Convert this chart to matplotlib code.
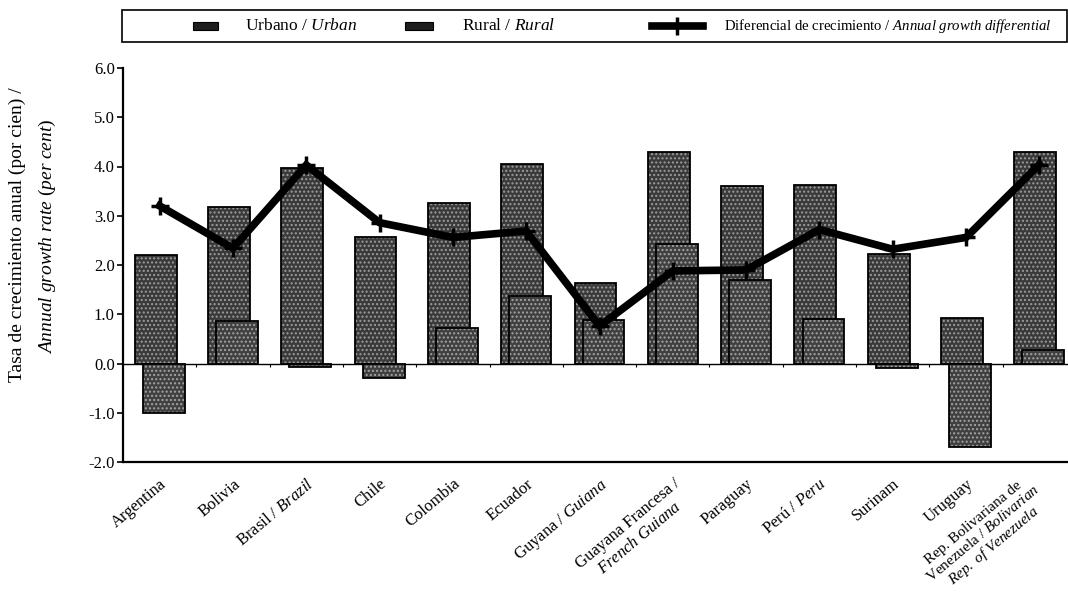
import numpy as np
import matplotlib
matplotlib.use("Agg")
import matplotlib.pyplot as plt
from matplotlib.lines import Line2D
from matplotlib.patches import Rectangle

plt.rcParams['font.family'] = ['Liberation Serif', 'DejaVu Serif']
plt.rcParams['mathtext.fontset'] = 'custom'
plt.rcParams['mathtext.rm'] = 'Liberation Serif'
plt.rcParams['mathtext.it'] = 'Liberation Serif:italic'
plt.rcParams['hatch.linewidth'] = 1.0

categories = [
    "Argentina",
    "Bolivia",
    r"Brasil / $\mathit{Brazil}$",
    "Chile",
    "Colombia",
    "Ecuador",
    r"Guyana / $\mathit{Guiana}$",
    "Guayana Francesa /\n" + r"$\mathit{French\ Guiana}$",
    "Paraguay",
    r"Perú / $\mathit{Peru}$",
    "Surinam",
    "Uruguay",
    "Rep. Bolivariana de\n" + r"Venezuela / $\mathit{Bolivarian}$" + "\n" + r"$\mathit{Rep.\ of\ Venezuela}$",
]
urban = [2.2, 3.18, 3.96, 2.56, 3.26, 4.06, 1.64, 4.3, 3.6, 3.63, 2.22, 0.92, 4.3]
rural = [-1.0, 0.86, -0.07, -0.3, 0.72, 1.37, 0.89, 2.42, 1.7, 0.91, -0.1, -1.7, 0.27]
differential = [3.2, 2.34, 4.03, 2.86, 2.56, 2.69, 0.76, 1.88, 1.9, 2.72, 2.32, 2.56, 4.04]
yticks = [-2.0, -1.0, 0.0, 1.0, 2.0, 3.0, 4.0, 5.0, 6.0]

fig = plt.figure(figsize=(10.68, 6.10), dpi=100)
ax = fig.add_axes([123/1068, 148/610, 953/1068, 394/610])

x = np.arange(len(categories))
w = 0.57
# urban bars: stippled fill then black outline
ax.bar(x - 0.055, urban, width=w, color='#3a3a3a', edgecolor='#9c9c9c', hatch='....',
       linewidth=0, zorder=2)
ax.bar(x - 0.055, urban, width=w, fill=False, edgecolor='black', linewidth=1.3, zorder=2.1)
# rural bars in front
ax.bar(x + 0.055, rural, width=w, color='#404040', edgecolor='#a4a4a4', hatch='....',
       linewidth=0, zorder=3)
ax.bar(x + 0.055, rural, width=w, fill=False, edgecolor='black', linewidth=1.3, zorder=3.1)
ax.plot(x, differential, color='black', linewidth=5.5, marker='+', markersize=13,
        markeredgewidth=2.5, solid_joinstyle='miter', zorder=4)

# zero line with category-boundary ticks
ax.axhline(0, color='black', linewidth=1.0, zorder=1)
bounds = np.arange(len(categories) - 1) + 0.5
ax.vlines(bounds, -0.08, 0, color='black', linewidth=0.8, zorder=1)

ax.set_xlim(-0.5, len(categories) - 0.5)
ax.set_ylim(-2.0, 6.0)
ax.set_yticks(yticks)
ax.set_yticklabels([f"{v:.1f}" for v in yticks], fontsize=12)
ax.tick_params(axis='y', direction='out', length=4, width=1.2, pad=2)

ax.set_xticks(x)
ax.set_xticklabels(categories[:-1] + [""], fontsize=12, rotation=40, ha='right',
                   rotation_mode='anchor', multialignment='center')
ax.tick_params(axis='x', length=0, pad=10)
# last (long, three-line) category label, nudged left so it stays inside the figure
ax.annotate(categories[-1], xy=(x[-1], 0), xycoords=('data', 'axes fraction'),
            xytext=(-11, -7), textcoords='offset points', rotation=40, ha='right',
            va='top', rotation_mode='anchor', multialignment='center', fontsize=11,
            linespacing=1.05, annotation_clip=False)

for s in ['top', 'right']:
    ax.spines[s].set_visible(False)
ax.spines['left'].set_linewidth(1.6)
ax.spines['bottom'].set_linewidth(1.6)

fig.text(0.016, 0.615, "Tasa de crecimiento anual (por cien) /", rotation=90,
         ha='center', va='center', fontsize=14)
fig.text(0.044, 0.612, r"$\mathit{Annual\ growth\ rate\ (per\ cent)}$", rotation=90,
         ha='center', va='center', fontsize=14)

# legend drawn in figure pixel space
W, H = 1068.0, 610.0
def fx(px):
    return px / W
def fy(py):
    return 1 - py / H

fig.patches.append(Rectangle((fx(122), fy(42)), fx(1067) - fx(122), fy(10) - fy(42),
                             transform=fig.transFigure, fill=False, edgecolor='black',
                             linewidth=1.2))
ly = 26
for (p0, p1) in [(193, 218), (405, 433)]:
    fig.patches.append(Rectangle((fx(p0), fy(ly + 4)), fx(p1) - fx(p0), fy(ly - 4) - fy(ly + 4),
                                 transform=fig.transFigure, facecolor='#1e1e1e',
                                 edgecolor='black', linewidth=0.8))
fig.lines.append(Line2D([fx(652), fx(703)], [fy(ly), fy(ly)], transform=fig.transFigure,
                        color='black', linewidth=5.5))
fig.lines.append(Line2D([fx(677)], [fy(ly)], transform=fig.transFigure, color='black',
                        marker='+', markersize=13, markeredgewidth=2.5, linestyle='none'))
legend_labels = [r"Urbano / $\mathit{Urban}$", r"Rural / $\mathit{Rural}$",
                 r"Diferencial de crecimiento / $\mathit{Annual\ growth\ differential}$"]
legend_sizes = [12.5, 12.5, 10.6]
for px, lab, fs in zip([245, 462, 724], legend_labels, legend_sizes):
    fig.text(fx(px), fy(ly), lab, ha='left', va='center', fontsize=fs)

fig.savefig("out.png", dpi=100)
